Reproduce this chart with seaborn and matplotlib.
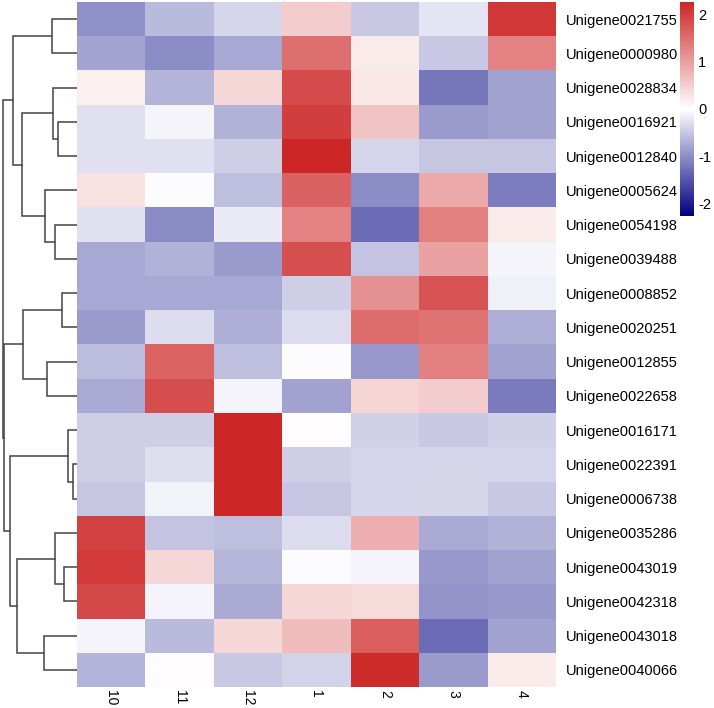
import numpy as np
import pandas as pd
import matplotlib
matplotlib.use("Agg")
import matplotlib.pyplot as plt
from matplotlib.colors import LinearSegmentedColormap
import seaborn as sns

# dati (valori scalati per riga)
genes = ["Unigene0021755", "Unigene0000980", "Unigene0028834", "Unigene0016921",
         "Unigene0012840", "Unigene0005624", "Unigene0054198", "Unigene0039488",
         "Unigene0008852", "Unigene0020251", "Unigene0012855", "Unigene0022658",
         "Unigene0016171", "Unigene0022391", "Unigene0006738", "Unigene0035286",
         "Unigene0043019", "Unigene0042318", "Unigene0043018", "Unigene0040066"]
months = ["10", "11", "12", "1", "2", "3", "4"]

values = [
    [-0.98, -0.62, -0.36, 0.52, -0.49, -0.24, 2.09],
    [-0.80, -1.02, -0.78, 1.50, 0.20, -0.49, 1.31],
    [0.16, -0.67, 0.42, 1.88, 0.24, -1.22, -0.83],
    [-0.27, -0.09, -0.68, 2.02, 0.63, -0.89, -0.83],
    [-0.27, -0.27, -0.44, 2.27, -0.38, -0.50, -0.50],
    [0.31, -0.03, -0.58, 1.64, -1.02, 0.89, -1.16],
    [-0.27, -1.04, -0.18, 1.31, -1.31, 1.33, 0.20],
    [-0.78, -0.69, -0.89, 1.83, -0.53, 0.99, -0.09],
    [-0.78, -0.78, -0.78, -0.44, 1.15, 1.78, -0.13],
    [-0.89, -0.31, -0.71, -0.31, 1.52, 1.46, -0.71],
    [-0.60, 1.62, -0.58, -0.02, -0.92, 1.33, -0.83],
    [-0.76, 1.85, -0.09, -0.83, 0.45, 0.52, -1.18],
    [-0.44, -0.44, 2.27, 0.02, -0.42, -0.49, -0.42],
    [-0.44, -0.29, 2.27, -0.44, -0.38, -0.36, -0.38],
    [-0.51, -0.11, 2.27, -0.51, -0.36, -0.36, -0.49],
    [1.99, -0.53, -0.58, -0.31, 0.84, -0.76, -0.69],
    [2.04, 0.42, -0.65, -0.02, -0.09, -0.92, -0.83],
    [1.91, -0.09, -0.76, 0.42, 0.39, -0.95, -0.92],
    [-0.09, -0.62, 0.42, 0.68, 1.67, -1.31, -0.83],
    [-0.67, 0.02, -0.49, -0.40, 2.20, -0.89, 0.20],
]

# albero delle righe: (figlio sinistro, figlio destro, altezza); id >= 20 = cluster
merges = [
    (0, 1, 25), (3, 4, 19), (2, 21, 24), (6, 7, 22), (5, 23, 32),
    (22, 24, 55), (20, 25, 64), (8, 9, 15), (10, 11, 30), (27, 28, 54),
    (13, 14, 4), (12, 30, 9), (16, 17, 13), (15, 32, 22), (18, 19, 33),
    (33, 34, 60), (31, 35, 67.5), (29, 36, 73), (26, 37, 74.3),
]

df = pd.DataFrame(values, index=genes, columns=months)

sns.set_theme(style="white")
plt.rcParams['font.family'] = ['Liberation Sans', 'DejaVu Sans']
plt.rcParams['axes.unicode_minus'] = False

cmap = LinearSegmentedColormap.from_list("nwf", ["navy", "white", "#CD2626"])

W, H = 714, 708
fig = plt.figure(figsize=(W / 100, H / 100), dpi=100)
hm_ax = fig.add_axes([77 / W, (H - 687) / H, 479 / W, 685 / H])
den_ax = fig.add_axes([0, (H - 687) / H, 77 / W, 685 / H])
cb_ax = fig.add_axes([680 / W, (H - 216) / H, 14 / W, 214 / H])

sns.heatmap(df, ax=hm_ax, cmap=cmap, vmin=-2.27, vmax=2.27, cbar_ax=cb_ax,
            linewidths=0, cbar_kws={"ticks": [-2, -1, 0, 1, 2]})

hm_ax.yaxis.tick_right()
hm_ax.set_yticklabels(genes, rotation=0, fontsize=10.5, color="black")
hm_ax.set_xticklabels(months, rotation=270, fontsize=10, color="black")
hm_ax.tick_params(axis="both", length=0)
hm_ax.tick_params(axis="y", pad=7)
hm_ax.tick_params(axis="x", pad=2)
hm_ax.set_xlabel("")
hm_ax.set_ylabel("")

cb = hm_ax.collections[0].colorbar
cb.outline.set_visible(False)
cb.ax.set_yticklabels(["-2", "-1", "0", "1", "2"])
cb.ax.tick_params(length=0, labelsize=10.5, pad=3, colors="black")

# dendrogramma disegnato dall'albero
pos = {i: (i + 0.5, 0.0) for i in range(len(genes))}
for k, (a, b, h) in enumerate(merges):
    ya, ha = pos[a]
    yb, hb = pos[b]
    den_ax.plot([ha, h, h, hb], [ya, ya, yb, yb], color="#444444", lw=1.1,
                solid_joinstyle="miter")
    pos[len(genes) + k] = ((ya + yb) / 2, h)

den_ax.set_xlim(77, 0)
den_ax.set_ylim(len(genes), 0)
den_ax.axis("off")

fig.savefig("out.png", dpi=100)
